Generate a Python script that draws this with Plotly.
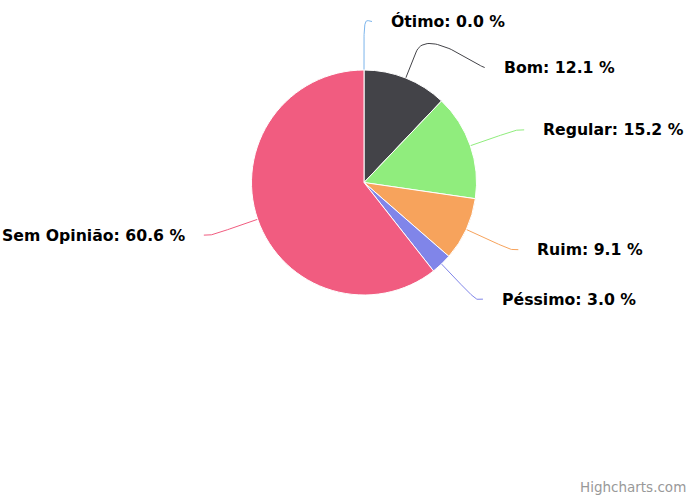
import numpy as np
import plotly.graph_objects as go

categories = ["Ótimo", "Bom", "Regular", "Ruim", "Péssimo", "Sem Opinião"]
values = [0.0, 12.1, 15.2, 9.1, 3.0, 60.6]
colors = ["#7cb5ec", "#434348", "#90ed7d", "#f7a35c", "#8085e9", "#f15c80"]

W, H = 690, 501
CX, CY, R = 364, 182.5, 112.5
LABEL_R = 161
ELBOW = 28
GAP = 46
PAD = 25
FONT = "DejaVu Sans"

fig = go.Figure()
fig.add_trace(go.Pie(
    labels=categories, values=values,
    marker=dict(colors=colors, line=dict(color="white", width=1)),
    sort=False, direction="clockwise", rotation=0,
    textinfo="none", hoverinfo="label+percent", showlegend=False,
    domain=dict(x=[(CX - R) / W, (CX + R) / W], y=[1 - (CY + R) / H, 1 - (CY - R) / H]),
))

vals = np.array(values, dtype=float)
total = vals.sum()
cum = np.cumsum(vals)
mid = (cum - vals / 2) / total * 2 * np.pi

# natural label positions, then push apart on each side
ys = CY - LABEL_R * np.cos(mid)
sides = np.where(np.sin(mid) >= -1e-9, 1, -1)
for s in (1, -1):
    idx = [i for i in range(len(vals)) if sides[i] == s]
    idx.sort(key=lambda i: ys[i])
    prev = None
    for i in idx:
        if prev is not None and ys[i] < prev + GAP:
            ys[i] = prev + GAP
        prev = ys[i]

annotations = []
t = np.linspace(0, 1, 40)
for i, (cat, v, col) in enumerate(zip(categories, values, colors)):
    s = sides[i]
    y = ys[i]
    xc = CX + s * np.sqrt(max(LABEL_R ** 2 - (y - CY) ** 2, 0))
    sa, ca = np.sin(mid[i]), np.cos(mid[i])
    p3 = np.array([CX + R * sa, CY - R * ca])
    p2 = np.array([CX + (R + ELBOW) * sa, CY - (R + ELBOW) * ca])
    p0 = np.array([xc + s * 8, y])
    c1 = np.array([xc + s * 3, y])
    c2 = 2 * p2 - p3
    bx = (1 - t) ** 3 * p0[0] + 3 * (1 - t) ** 2 * t * c1[0] + 3 * (1 - t) * t ** 2 * c2[0] + t ** 3 * p2[0]
    by = (1 - t) ** 3 * p0[1] + 3 * (1 - t) ** 2 * t * c1[1] + 3 * (1 - t) * t ** 2 * c2[1] + t ** 3 * p2[1]
    xs = list(bx) + [p3[0]]
    yl = list(by) + [p3[1]]
    fig.add_trace(go.Scatter(x=xs, y=yl, mode="lines", line=dict(color=col, width=1),
                             hoverinfo="skip", showlegend=False))
    annotations.append(dict(
        x=xc + s * PAD, y=y, xref="x", yref="y",
        text=f"<b>{cat}: {v:.1f} %</b>", showarrow=False,
        xanchor="left" if s > 0 else "right", yanchor="middle",
        font=dict(family=FONT, size=15.7, color="#000000"),
    ))

annotations.append(dict(
    x=1 - 2 / W, y=4 / H, xref="paper", yref="paper", text="Highcharts.com",
    showarrow=False, xanchor="right", yanchor="bottom",
    font=dict(family=FONT, size=13.5, color="#999999"),
))

fig.update_layout(
    width=W, height=H, margin=dict(l=0, r=0, t=0, b=0),
    paper_bgcolor="white", plot_bgcolor="white",
    xaxis=dict(range=[0, W], visible=False, fixedrange=True, domain=[0, 1]),
    yaxis=dict(range=[H, 0], visible=False, fixedrange=True, domain=[0, 1]),
    annotations=annotations,
)

fig.write_html("out.html", config={"displayModeBar": False},
               post_script="document.body.style.margin='0';document.body.style.overflow='hidden';")
